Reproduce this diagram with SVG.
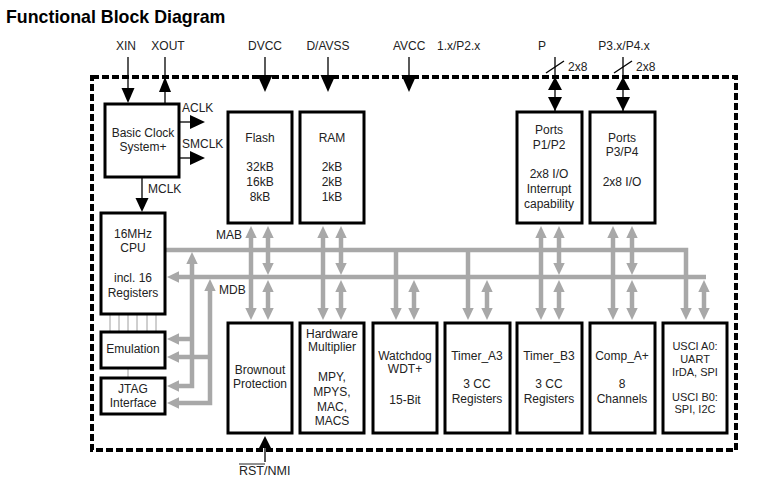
<svg xmlns="http://www.w3.org/2000/svg" width="769" height="498" viewBox="0 0 769 498">
<style>
text{font-family:"Liberation Sans",Arial,sans-serif;font-size:12px;fill:#222}
.m{text-anchor:middle}
.s{font-size:11px}
.title{font-size:17.8px;font-weight:bold;fill:#000}
.box{fill:#fff;stroke:#000;stroke-width:3}
.bus{fill:none;stroke:#a8a8a8;stroke-width:4.5}
.thin{stroke:#a0a0a0;stroke-width:1}
.bl{stroke:#000;stroke-width:1.3;fill:none}
.ah{fill:#000}
.bd{fill:none;stroke:#000;stroke-width:4;stroke-dasharray:7 3}
</style>
<defs>
<marker id="ga" markerUnits="userSpaceOnUse" viewBox="0 0 12 12" markerWidth="12" markerHeight="12" refX="4" refY="6" orient="auto-start-reverse">
<path d="M0,0.3 L12,6 L0,11.7 Z" fill="#a8a8a8"/>
</marker>
</defs>
<rect width="769" height="498" fill="#fff"/>
<text class="title" x="6" y="23">Functional Block Diagram</text>

<rect class="bd" x="92" y="77" width="644" height="373"/>

<g id="labels">
<text class="m" x="126" y="50">XIN</text>
<text class="m" x="168" y="50">XOUT</text>
<text class="m" x="265" y="50">DVCC</text>
<text class="m" x="328" y="50">D/AVSS</text>
<text x="393" y="50">AVCC</text>
<text x="437" y="50">1.x/P2.x</text>
<text class="m" x="542" y="50">P</text>
<text class="m" x="624" y="50">P3.x/P4.x</text>
<text x="568" y="71">2x8</text>
<text x="636" y="71">2x8</text>
<text x="182" y="112">ACLK</text>
<text x="182" y="148">SMCLK</text>
<text x="148" y="193">MCLK</text>
<text x="216" y="239">MAB</text>
<text x="219" y="294">MDB</text>
<text x="239" y="475" style="font-size:12.5px">RST/NMI</text>
<line x1="239" y1="464" x2="265" y2="464" stroke="#222" stroke-width="1"/>
</g>

<g id="connectors">
<line class="bl" x1="128" y1="57" x2="128" y2="90"/><polygon class="ah" points="121.5,88 134.5,88 128,103"/>
<line class="bl" x1="165" y1="57" x2="165" y2="104"/><polygon class="ah" points="159,92 171,92 165,77"/>
<line class="bl" x1="179" y1="122" x2="192" y2="122"/><polygon class="ah" points="190,115 190,129 205,122"/>
<line class="bl" x1="179" y1="158" x2="192" y2="158"/><polygon class="ah" points="190,151 190,165 205,158"/>
<line class="bl" x1="142" y1="177" x2="142" y2="200"/><polygon class="ah" points="135.5,198 148.5,198 142,212"/>
<line class="bl" x1="265" y1="57" x2="265" y2="77"/><polygon class="ah" points="257.5,75 272.5,75 265,92"/>
<line class="bl" x1="328" y1="57" x2="328" y2="77"/><polygon class="ah" points="320.5,75 335.5,75 328,92"/>
<line class="bl" x1="409" y1="57" x2="409" y2="77"/><polygon class="ah" points="401.5,75 416.5,75 409,92"/>
<line class="bl" x1="555" y1="57" x2="555" y2="112"/><polygon class="ah" points="548,90 562,90 555,77"/><polygon class="ah" points="548,97 562,97 555,111"/>
<line class="bl" x1="546" y1="73" x2="564" y2="61"/>
<line class="bl" x1="623" y1="57" x2="623" y2="112"/><polygon class="ah" points="616,90 630,90 623,77"/><polygon class="ah" points="616,97 630,97 623,111"/>
<line class="bl" x1="614" y1="73" x2="632" y2="61"/>
<line class="bl" x1="265" y1="446" x2="265" y2="462"/><polygon class="ah" points="259,448 271,448 265,436"/>

<line class="thin" x1="110" y1="314" x2="110" y2="332"/>
<line class="thin" x1="119" y1="314" x2="119" y2="332"/>
<line class="thin" x1="128" y1="314" x2="128" y2="332"/>
<line class="thin" x1="137" y1="314" x2="137" y2="332"/>
<line class="thin" x1="147" y1="314" x2="147" y2="332"/>
<line class="thin" x1="156" y1="314" x2="156" y2="332"/>
<line class="thin" x1="128" y1="368" x2="128" y2="378"/>

<path class="bus" d="M165,250 H686 V312" marker-end="url(#ga)"/>
<path class="bus" d="M706,277 H175" marker-end="url(#ga)"/>
<path class="bus" d="M192,260 V386 H175" marker-start="url(#ga)" marker-end="url(#ga)"/>
<path class="bus" d="M192,339 H175" marker-end="url(#ga)"/>
<path class="bus" d="M210,287 V403 H175" marker-start="url(#ga)" marker-end="url(#ga)"/>
<path class="bus" d="M210,357 H175" marker-end="url(#ga)"/>

<path class="bus" d="M251,234 V312" marker-start="url(#ga)" marker-end="url(#ga)"/>
<path class="bus" d="M268,234 V267" marker-start="url(#ga)" marker-end="url(#ga)"/>
<path class="bus" d="M268,288 V312" marker-start="url(#ga)" marker-end="url(#ga)"/>
<path class="bus" d="M323,234 V312" marker-start="url(#ga)" marker-end="url(#ga)"/>
<path class="bus" d="M341,234 V267" marker-start="url(#ga)" marker-end="url(#ga)"/>
<path class="bus" d="M341,288 V312" marker-start="url(#ga)" marker-end="url(#ga)"/>
<path class="bus" d="M396,250 V312" marker-end="url(#ga)"/>
<path class="bus" d="M414,288 V312" marker-start="url(#ga)" marker-end="url(#ga)"/>
<path class="bus" d="M468,250 V312" marker-end="url(#ga)"/>
<path class="bus" d="M487,288 V312" marker-start="url(#ga)" marker-end="url(#ga)"/>
<path class="bus" d="M541,234 V312" marker-start="url(#ga)" marker-end="url(#ga)"/>
<path class="bus" d="M559,234 V267" marker-start="url(#ga)" marker-end="url(#ga)"/>
<path class="bus" d="M559,288 V312" marker-start="url(#ga)" marker-end="url(#ga)"/>
<path class="bus" d="M613,234 V312" marker-start="url(#ga)" marker-end="url(#ga)"/>
<path class="bus" d="M632,234 V267" marker-start="url(#ga)" marker-end="url(#ga)"/>
<path class="bus" d="M632,288 V312" marker-start="url(#ga)" marker-end="url(#ga)"/>
<path class="bus" d="M704,288 V312" marker-start="url(#ga)" marker-end="url(#ga)"/>
</g>

<g id="clock"><rect class="box" x="105" y="104" width="74" height="73"/>
<text class="m" x="143" y="137">Basic Clock</text><text class="m" x="143" y="151">System+</text></g>

<g id="flash"><rect class="box" x="228" y="112" width="64" height="111"/>
<text class="m" x="260" y="142">Flash</text><text class="m" x="260" y="171">32kB</text><text class="m" x="260" y="186">16kB</text><text class="m" x="260" y="201">8kB</text></g>

<g id="ram"><rect class="box" x="300" y="112" width="64" height="111"/>
<text class="m" x="332" y="142">RAM</text><text class="m" x="332" y="171">2kB</text><text class="m" x="332" y="186">2kB</text><text class="m" x="332" y="201">1kB</text></g>

<g id="ports12"><rect class="box" x="517" y="112" width="65" height="111"/>
<text class="m" x="549" y="134">Ports</text><text class="m" x="549" y="149">P1/P2</text><text class="m" x="549" y="178">2x8 I/O</text><text class="m" x="549" y="193">Interrupt</text><text class="m" x="549" y="208">capability</text></g>

<g id="ports34"><rect class="box" x="590" y="112" width="65" height="111"/>
<text class="m" x="622" y="142">Ports</text><text class="m" x="622" y="156">P3/P4</text><text class="m" x="622" y="186">2x8 I/O</text></g>

<g id="cpu"><rect class="box" x="101" y="213" width="64" height="101"/>
<text class="m" x="133" y="238">16MHz</text><text class="m" x="133" y="252">CPU</text><text class="m" x="133" y="282">incl. 16</text><text class="m" x="133" y="297">Registers</text></g>

<g id="emulation"><rect class="box" x="101" y="332" width="64" height="36"/>
<text class="m" x="133" y="353">Emulation</text></g>

<g id="jtag"><rect class="box" x="101" y="378" width="64" height="36"/>
<text class="m" x="133" y="393">JTAG</text><text class="m" x="133" y="407">Interface</text></g>

<g id="brownout"><rect class="box" x="228" y="323" width="64" height="110"/>
<text class="m" x="260" y="374">Brownout</text><text class="m" x="260" y="388">Protection</text></g>

<g id="multiplier"><rect class="box" x="300" y="323" width="64" height="110"/>
<text class="m" x="332" y="338">Hardware</text><text class="m" x="332" y="351">Multiplier</text><text class="m" x="332" y="381">MPY,</text><text class="m" x="332" y="396">MPYS,</text><text class="m" x="332" y="411">MAC,</text><text class="m" x="332" y="425">MACS</text></g>

<g id="watchdog"><rect class="box" x="373" y="323" width="64" height="110"/>
<text class="m" x="405" y="360">Watchdog</text><text class="m" x="405" y="373">WDT+</text><text class="m" x="405" y="404">15-Bit</text></g>

<g id="timera3"><rect class="box" x="445" y="323" width="65" height="110"/>
<text class="m" x="477" y="360">Timer_A3</text><text class="m" x="477" y="388">3 CC</text><text class="m" x="477" y="403">Registers</text></g>

<g id="timerb3"><rect class="box" x="517" y="323" width="65" height="110"/>
<text class="m" x="549" y="360">Timer_B3</text><text class="m" x="549" y="388">3 CC</text><text class="m" x="549" y="403">Registers</text></g>

<g id="comp"><rect class="box" x="590" y="323" width="65" height="110"/>
<text class="m" x="622" y="360">Comp_A+</text><text class="m" x="622" y="388">8</text><text class="m" x="622" y="403">Channels</text></g>

<g id="usci"><rect class="box" x="663" y="323" width="64" height="110"/>
<text class="m s" x="695" y="350">USCI A0:</text><text class="m s" x="695" y="362.5">UART</text><text class="m s" x="695" y="375.5">IrDA, SPI</text><text class="m s" x="695" y="400.5">USCI B0:</text><text class="m s" x="695" y="413">SPI, I2C</text></g>
</svg>
